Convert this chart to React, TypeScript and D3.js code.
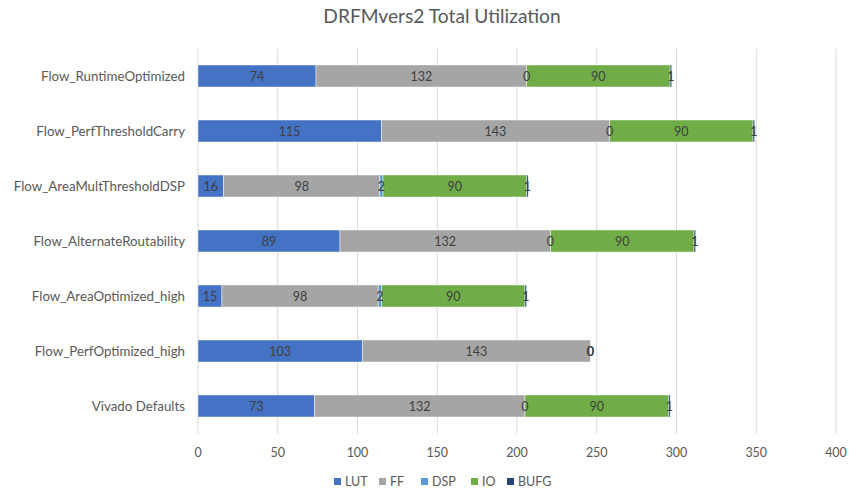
import React from "react";
import * as d3 from "d3";

const categories = [
  "Flow_RuntimeOptimized",
  "Flow_PerfThresholdCarry",
  "Flow_AreaMultThresholdDSP",
  "Flow_AlternateRoutability",
  "Flow_AreaOptimized_high",
  "Flow_PerfOptimized_high",
  "Vivado Defaults",
];
const seriesNames = ["LUT", "FF", "DSP", "IO", "BUFG"];
const LUT = [74, 115, 16, 89, 15, 103, 73];
const FF = [132, 143, 98, 132, 98, 143, 132];
const DSP = [0, 0, 2, 0, 2, 0, 0];
const IO = [90, 90, 90, 90, 90, 0, 90];
const BUFG = [1, 1, 1, 1, 1, 0, 1];
const xTicks = [0, 50, 100, 150, 200, 250, 300, 350, 400];
const colors = ["#4472C4", "#A5A5A5", "#5B9BD5", "#70AD47", "#264478"];

const W = 849;
const H = 495;
const FONT = "Lato, 'Open Sans', sans-serif";

export default function App() {
  const values = [LUT, FF, DSP, IO, BUFG];
  const rows = categories.map((c, i) => {
    const r: any = { cat: c };
    seriesNames.forEach((s, k) => (r[s] = values[k][i]));
    return r;
  });
  const stack = d3.stack().keys(seriesNames)(rows as any);

  const x = d3.scaleLinear().domain([0, 400]).range([198, 836]);
  const y = d3
    .scaleBand()
    .domain(categories)
    .range([48.5, 433.5])
    .paddingInner(0.6)
    .paddingOuter(0.3);

  const legendX = [334, 379, 421, 471, 507];

  return (
    <svg
      width={W}
      height={H}
      style={{ position: "absolute", left: 0, top: 0, background: "#fff" }}
      fontFamily={FONT}
    >
      <text x={442} y={23} textAnchor="middle" fontSize={19.2} fill="#595959">
        DRFMvers2 Total Utilization
      </text>
      {xTicks.map((t) => (
        <g key={t}>
          <line x1={x(t)} x2={x(t)} y1={48.5} y2={433.5} stroke="#d9d9d9" strokeWidth={1} />
          <text x={x(t)} y={457} textAnchor="middle" fontSize={12.5} fill="#595959">
            {t}
          </text>
        </g>
      ))}
      {categories.map((c) => (
        <text
          key={c}
          x={185}
          y={(y(c) as number) + y.bandwidth() / 2 + 4.5}
          textAnchor="end"
          fontSize={13.3}
          fill="#595959"
        >
          {c}
        </text>
      ))}
      {stack.map((layer, k) => (
        <g key={layer.key}>
          {layer.map((d: any, i: number) => (
            <rect
              key={i}
              x={x(d[0])}
              y={y(categories[i]) as number}
              width={x(d[1]) - x(d[0])}
              height={y.bandwidth()}
              fill={colors[k]}
              stroke="#fff"
              strokeOpacity={0.6}
              strokeWidth={0.75}
            />
          ))}
        </g>
      ))}
      {stack.map((layer, k) => (
        <g key={"l" + layer.key}>
          {layer.map((d: any, i: number) => (
            <text
              key={i}
              x={(x(d[0]) + x(d[1])) / 2}
              y={(y(categories[i]) as number) + y.bandwidth() / 2 + 4.5}
              textAnchor="middle"
              fontSize={12.5}
              fill="#404040"
            >
              {values[k][i]}
            </text>
          ))}
        </g>
      ))}
      {seriesNames.map((s, k) => (
        <g key={s} transform={`translate(${legendX[k]},478)`}>
          <rect x={0} y={0} width={7} height={7} fill={colors[k]} />
          <text x={11} y={8} fontSize={12.5} fill="#595959">
            {s}
          </text>
        </g>
      ))}
    </svg>
  );
}
